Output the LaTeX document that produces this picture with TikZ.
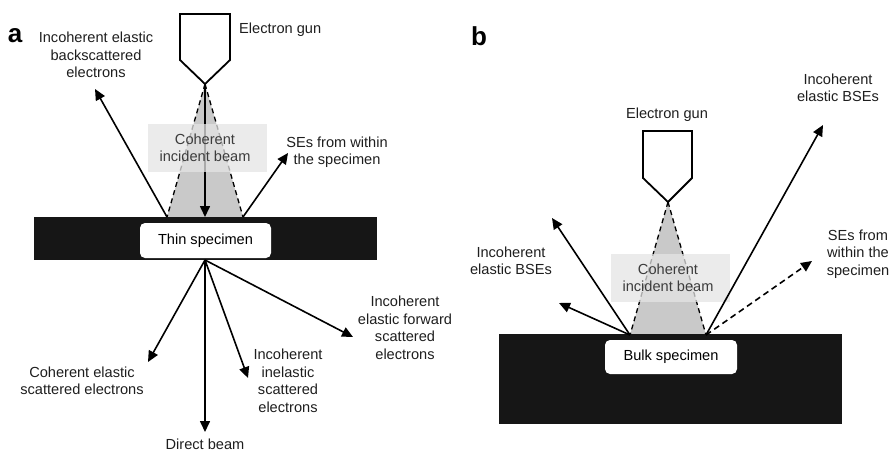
\documentclass[tikz,border=0pt]{standalone}
\usepackage{fontspec}
\setmainfont{Liberation Sans}
\usetikzlibrary{arrows.meta}
\definecolor{slab}{HTML}{161616}
\definecolor{beamfill}{HTML}{C9C9C9}
\definecolor{labelbox}{HTML}{E4E4E4}
\definecolor{txt}{HTML}{1E1E1E}
\definecolor{beamtxt}{HTML}{3C3C3C}
\begin{document}
\begin{tikzpicture}[x=1pt,y=-1pt,
  lbl/.style={font=\fontsize{14.6}{17.5}\selectfont, align=center, text=txt, inner sep=0pt},
  panel/.style={font=\fontsize{26}{28}\selectfont\bfseries, text=black, inner sep=0pt},
  gun/.style={draw=black, line width=1.8pt, fill=white, line join=miter},
  beam/.style={fill=beamfill, draw=none},
  beamedge/.style={draw=black, line width=1.3pt, dash pattern=on 5pt off 3.5pt},
  beambox/.style={fill=labelbox, fill opacity=0.75, draw=none},
  slabstyle/.style={fill=slab, draw=none},
  specbox/.style={fill=white, draw=none, rounded corners=5pt},
  ray/.style={draw=black, line width=1.6pt, -{Triangle[length=11pt,width=10pt]}},
  seray/.style={ray, dash pattern=on 6pt off 4pt}
]
\useasboundingbox (0,0) rectangle (890,452);

% ---------------- (a) thin specimen ----------------
\node[panel] (pa) at (15,36) {a};

\coordinate (aTip) at (205,84);
\coordinate (aBL) at (167,217);
\coordinate (aBR) at (243,217);
\coordinate (aBC) at (205,217);
\coordinate (aExit) at (205,260);

% incident beam cone
\fill[beam] (aTip) -- (aBR) -- (aBL) -- cycle;
\draw[beamedge] (aTip) -- (aBL);
\draw[beamedge] (aTip) -- (aBR);
\draw[ray] (aTip) -- (aBC);
\fill[beambox] (148,124) rectangle (267,172);
\node[lbl, text=beamtxt] (aBeamLbl) at (205,148) {Coherent\\incident beam};

% electron gun
\draw[gun] (180,14) -- (230,14) -- (230,60) -- (aTip) -- (180,60) -- cycle;
\node[lbl, anchor=west] (aGunLbl) at (239,30) {Electron gun};

% specimen
\fill[slabstyle] (34,217) rectangle (377,260);
\node[specbox, minimum width=131pt, minimum height=35pt, font=\fontsize{14.6}{17.5}\selectfont] (aSpec) at (205.5,240.5) {Thin specimen};

% emitted electrons above the specimen
\coordinate (aBSE) at (95,89);
\coordinate (aSE) at (288,153);
\draw[ray] (aBL) -- (aBSE);
\draw[ray] (aBR) -- (aSE);
\node[lbl] (aBSELbl) at (96,55) {Incoherent elastic\\backscattered\\electrons};
\node[lbl] (aSELbl) at (337,152) {SEs from within\\the specimen};

% transmitted electrons below the specimen
\coordinate (aCoh) at (148,362);
\coordinate (aDir) at (205,432);
\coordinate (aInel) at (248,378);
\coordinate (aFwd) at (353,337);
\draw[ray] (aExit) -- (aCoh);
\draw[ray] (aExit) -- (aDir);
\draw[ray] (aExit) -- (aInel);
\draw[ray] (aExit) -- (aFwd);
\node[lbl] (aCohLbl) at (82,381) {Coherent elastic\\scattered electrons};
\node[lbl] (aInelLbl) at (288,381) {Incoherent\\inelastic\\scattered\\electrons};
\node[lbl] (aFwdLbl) at (405,328) {Incoherent\\elastic forward\\scattered\\electrons};
\node[lbl, anchor=base] (aDirLbl) at (205,449) {Direct beam};

% ---------------- (b) bulk specimen ----------------
\node[panel] (pb) at (479,36) {b};

\coordinate (bTip) at (668,202);
\coordinate (bBL) at (630,335);
\coordinate (bBR) at (706,335);

% incident beam cone
\fill[beam] (bTip) -- (bBR) -- (bBL) -- cycle;
\draw[beamedge] (bTip) -- (bBL);
\draw[beamedge] (bTip) -- (bBR);
\fill[beambox] (611,254) rectangle (730,302);
\node[lbl, text=beamtxt] (bBeamLbl) at (668,278) {Coherent\\incident beam};

% electron gun
\draw[gun] (643,131) -- (692,131) -- (692,178) -- (bTip) -- (643,178) -- cycle;
\node[lbl] (bGunLbl) at (667,115) {Electron gun};

% specimen
\fill[slabstyle] (499,334) rectangle (842,424);
\node[specbox, minimum width=132pt, minimum height=34pt, font=\fontsize{14.6}{17.5}\selectfont] (bSpec) at (671,357) {Bulk specimen};

% emitted electrons
\coordinate (bBSE1) at (552,218);
\coordinate (bBSE2) at (559,303);
\coordinate (bBSE3) at (823,125);
\coordinate (bSE) at (812,261);
\draw[ray] (bBL) -- (bBSE1);
\draw[ray] (bBL) -- (bBSE2);
\draw[ray] (bBR) -- (bBSE3);
\draw[seray] (bBR) -- (bSE);
\node[lbl] (bBSELbl) at (511,261) {Incoherent\\elastic BSEs};
\node[lbl] (bBSE3Lbl) at (838,88) {Incoherent\\elastic BSEs};
\node[lbl] (bSELbl) at (858,254) {SEs from\\within the\\specimen};
\end{tikzpicture}
\end{document}
